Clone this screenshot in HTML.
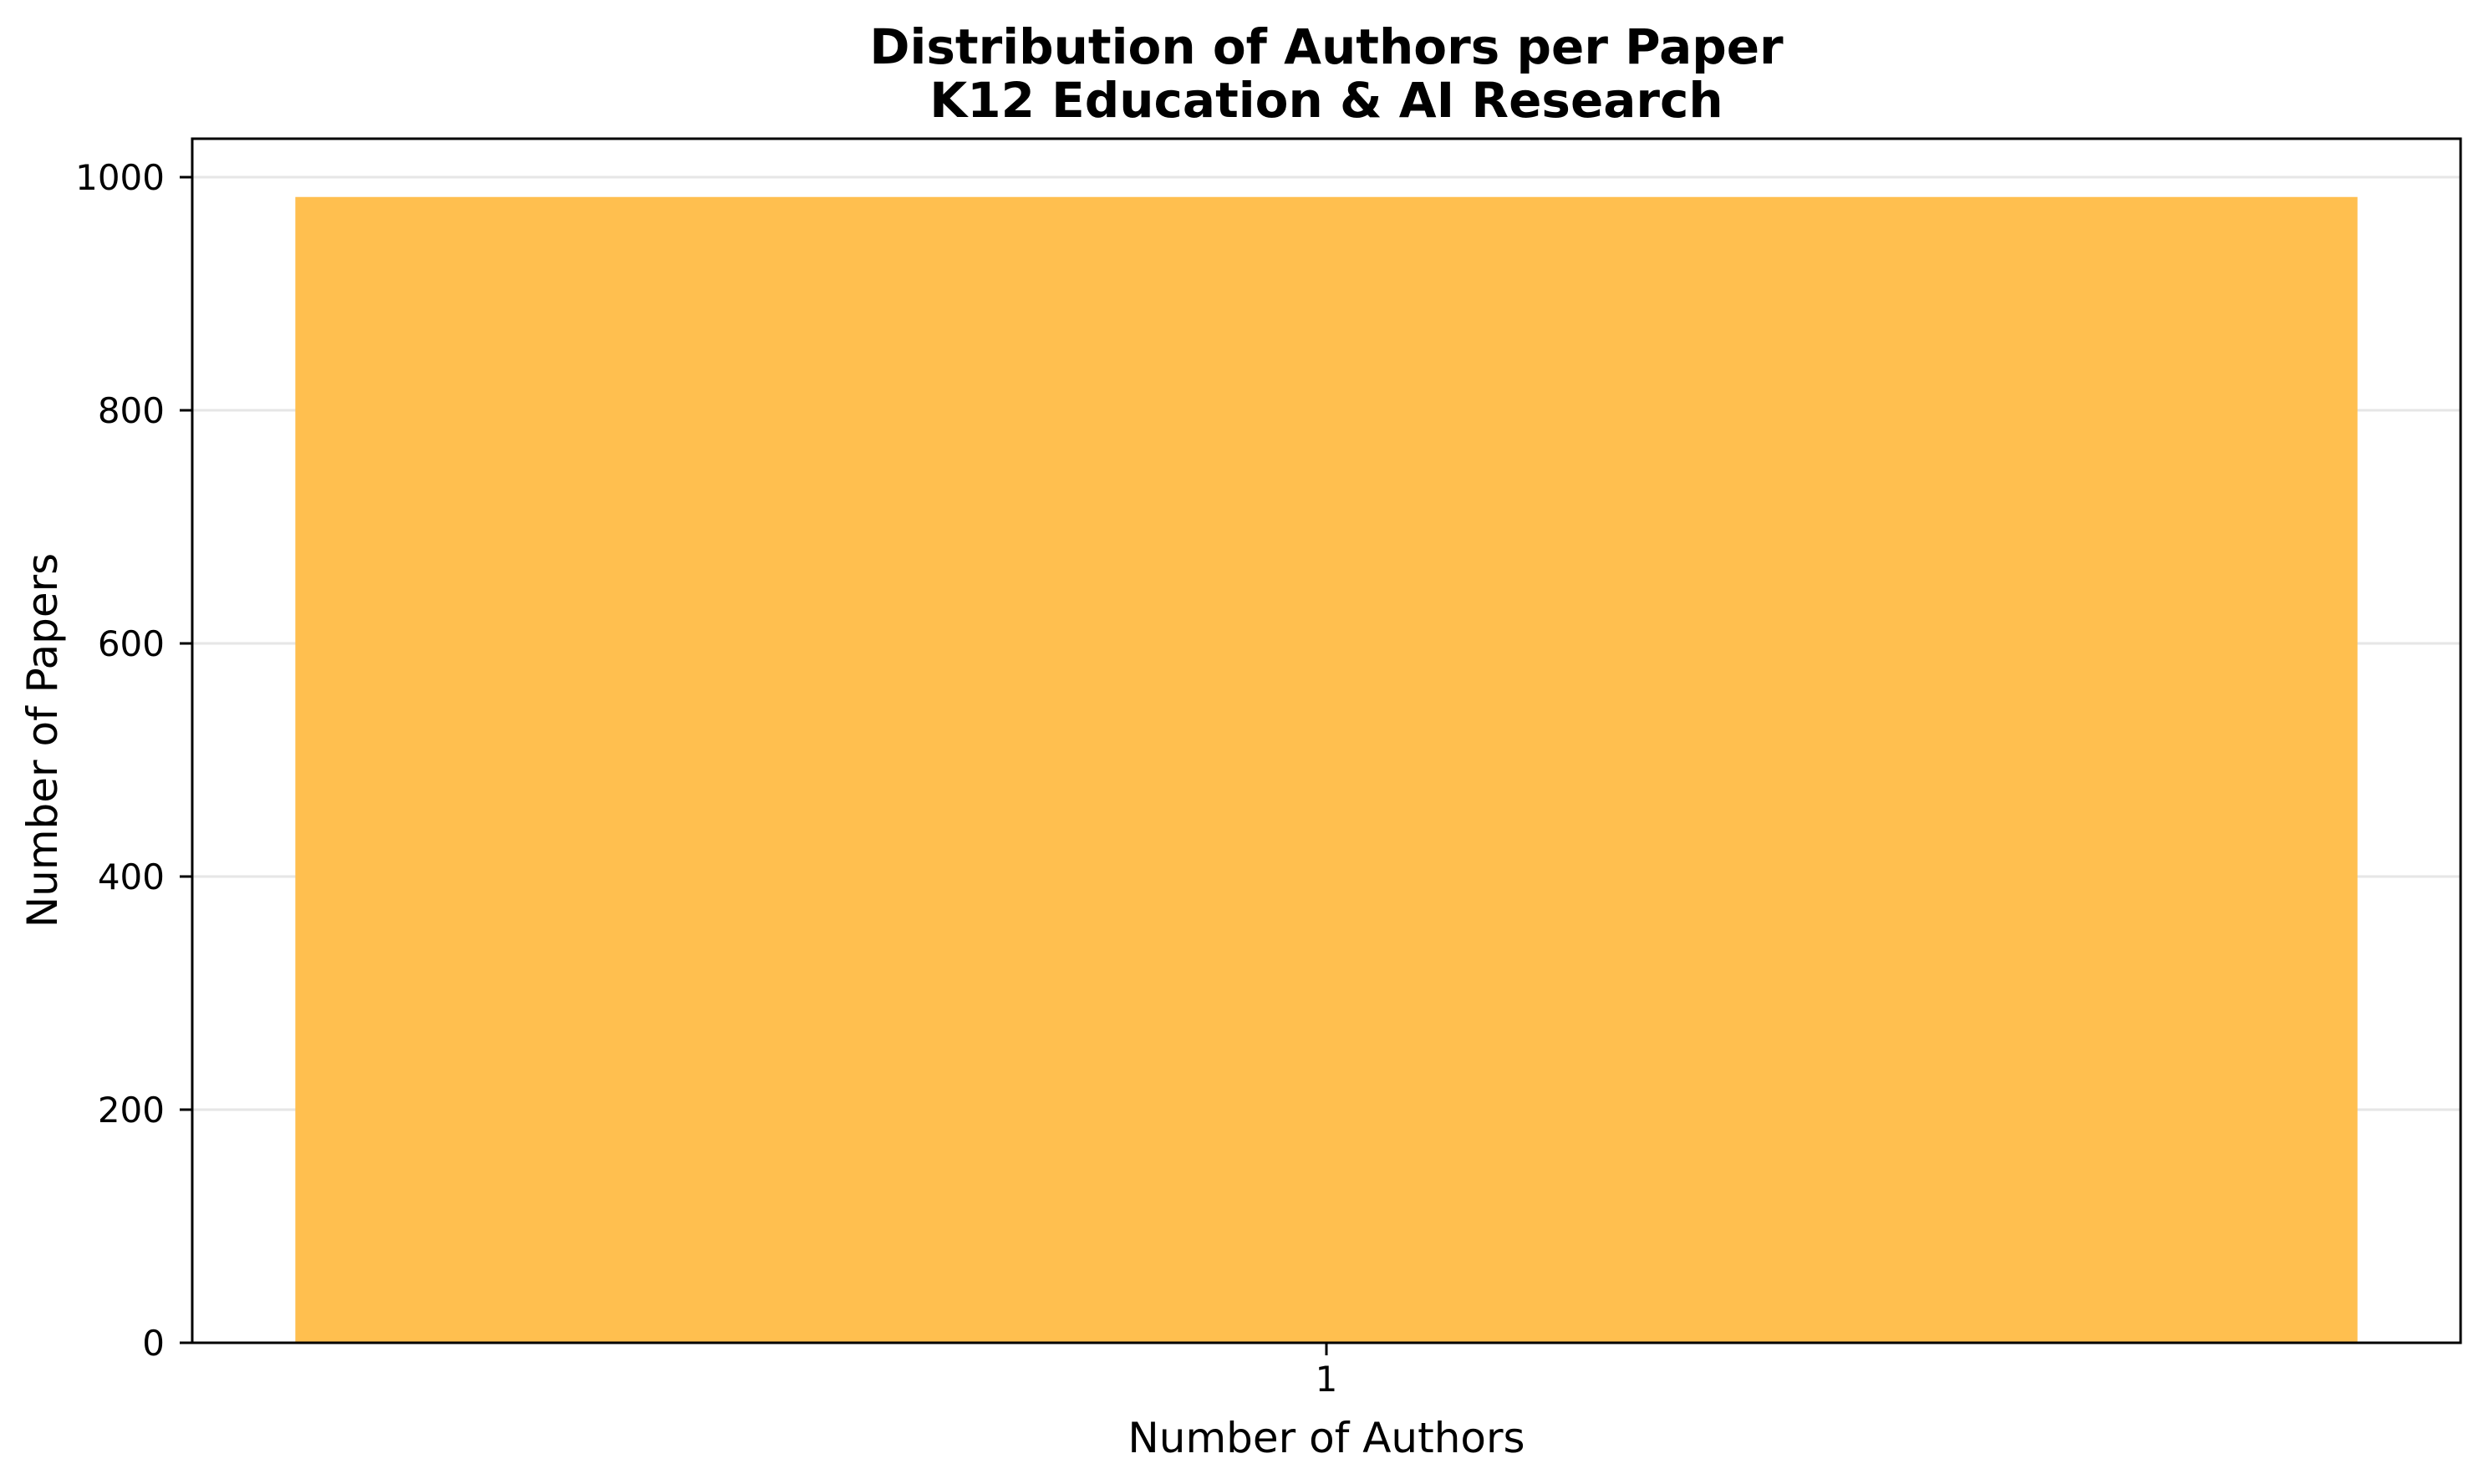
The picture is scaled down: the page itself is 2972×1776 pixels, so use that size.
<!DOCTYPE html>
<html><head><meta charset="utf-8"><style>
html,body{margin:0;padding:0;background:#fff}
svg text{font-family:"DejaVu Sans","Liberation Sans",sans-serif;fill:#000}
</style></head><body>
<svg id="chart" width="2972" height="1771" xmlns="http://www.w3.org/2000/svg">
<text x="1587" y="76" font-size="58" font-weight="bold" text-anchor="middle">Distribution of Authors per Paper</text>
<text x="1587" y="140" font-size="58" font-weight="bold" text-anchor="middle">K12 Education &amp; AI Research</text>
<g id="grid"></g>
<g id="bars"></g>
<g id="axes"></g>
<text x="1587" y="1738" font-size="50" text-anchor="middle">Number of Authors</text>
<text x="0" y="0" font-size="50" text-anchor="middle" transform="translate(68,886) rotate(-90)">Number of Papers</text>
</svg>
<script>
const categories = ["1"];
const counts = [983];
const yTicks = [0, 200, 400, 600, 800, 1000];
const yMax = 1033;

const L = 230, R = 2944, T = 166, B = 1607;
const xMin = -0.44, xMax = 0.44, barW = 0.8;
const NS = "http://www.w3.org/2000/svg";
function xs(v){ return L + (v - xMin) / (xMax - xMin) * (R - L); }
function ys(v){ return B - v / yMax * (B - T); }
function mk(tag, attrs, parent){ const e = document.createElementNS(NS, tag); for (const k in attrs) e.setAttribute(k, attrs[k]); parent.appendChild(e); return e; }

const grid = document.getElementById('grid');
const axes = document.getElementById('axes');
const bars = document.getElementById('bars');

yTicks.forEach(t => {
  const g = mk('line', {x1:L, x2:R, y1:ys(t), y2:ys(t), stroke:'#e6e6e6', 'stroke-width':3}, grid);
  
  
  const tk = mk('line', {x1:L-15, x2:L, y1:ys(t), y2:ys(t), stroke:'#000', 'stroke-width':3}, axes);
  
  
  const lb = mk('text', {x:L-33, y:ys(t)+15, 'font-size':42, 'text-anchor':'end'}, axes);
  lb.textContent = t;
  
  
});

categories.forEach((c, i) => {
  const x0 = xs(i - barW/2), x1 = xs(i + barW/2);
  const r = mk('rect', {x:x0, y:ys(counts[i]), width:x1-x0, height:ys(0)-ys(counts[i]), fill:'#ffbf4f'}, bars);
  
  
  const tk = mk('line', {x1:xs(i), x2:xs(i), y1:B, y2:B+15, stroke:'#000', 'stroke-width':3}, axes);
  
  
  const lb = mk('text', {x:xs(i), y:1665, 'font-size':42, 'text-anchor':'middle'}, axes);
  lb.textContent = c;
  
  
});

const frame = mk('rect', {x:L, y:T, width:R-L, height:B-T, fill:'none', stroke:'#000', 'stroke-width':3}, axes);


</script>
</body></html>
